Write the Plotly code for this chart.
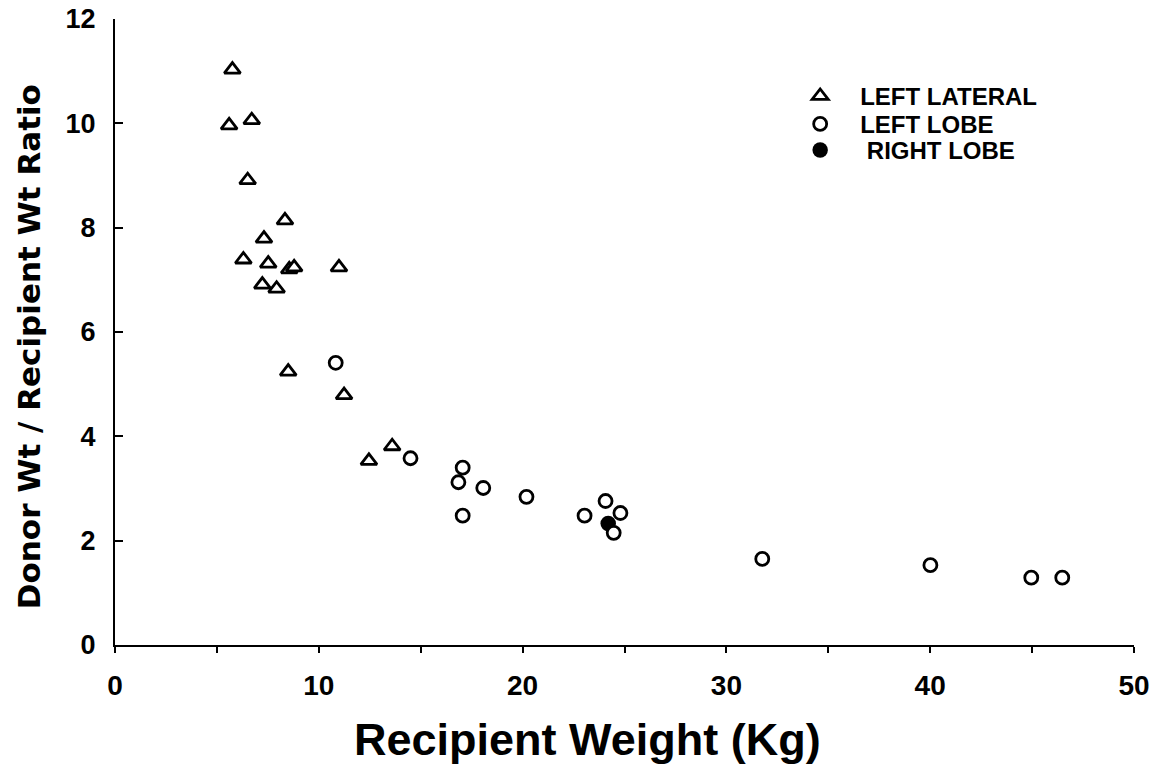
import plotly.graph_objects as go

# Left lateral segment grafts (triangles)
ll_weight = [5.76, 5.60, 6.71, 6.51, 8.34, 7.31, 6.30, 7.52, 8.55, 8.79, 10.99, 7.23, 7.93,
             8.50, 11.24, 13.60, 12.46]
ll_ratio = [11.03, 9.96, 10.06, 8.91, 8.14, 7.79, 7.39, 7.31, 7.20, 7.24, 7.24, 6.91, 6.83,
            5.24, 4.79, 3.81, 3.53]

# Left lobe grafts (open circles)
lobe_weight = [10.83, 14.50, 17.06, 16.85, 18.07, 17.06, 20.19, 23.04, 24.07, 24.80, 24.47,
               31.76, 40.01, 44.96, 46.48]
lobe_ratio = [5.41, 3.58, 3.40, 3.12, 3.01, 2.48, 2.84, 2.48, 2.76, 2.53, 2.15,
              1.65, 1.53, 1.29, 1.29]

# Right lobe graft (filled circle)
rl_weight = [24.20]
rl_ratio = [2.33]

x_ticks = [0, 10, 20, 30, 40, 50]
y_ticks = [0, 2, 4, 6, 8, 10, 12]

# page has an 8px body margin; target pixel geometry (window coords)
X0, X50 = 114.5, 1134.0
Y0, Y12 = 645.0, 18.6
OFF = 8
W, H = 1162 - OFF, 780 - OFF
PW, PH = X50 - X0, Y0 - Y12

def px(xw):
    return (xw - X0) / PW

def py(yw):
    return (Y0 - yw) / PH

NB = "\u00a0"
FONT = "Arial, Liberation Sans, sans-serif"
fig = go.Figure()
fig.add_trace(go.Scatter(
    x=ll_weight, y=ll_ratio, mode="markers", name=NB * 3 + "LEFT LATERAL", legend="legend",
    marker=dict(symbol="triangle-up", size=14, color="white", line=dict(color="black", width=2.8)),
))
fig.add_trace(go.Scatter(
    x=rl_weight, y=rl_ratio, mode="markers", name=NB * 4 + "RIGHT LOBE", legend="legend3",
    marker=dict(symbol="circle", size=15.5, color="black", line=dict(color="black", width=0)),
))
fig.add_trace(go.Scatter(
    x=lobe_weight, y=lobe_ratio, mode="markers", name=NB * 3 + "LEFT LOBE", legend="legend2",
    marker=dict(symbol="circle", size=13, color="white", line=dict(color="black", width=2.8)),
))

leg_common = dict(xanchor="left", yanchor="middle", bgcolor="rgba(0,0,0,0)", borderwidth=0,
                  font=dict(size=24, family=FONT, color="black", weight="bold"))
lx = px(800)

fig.update_layout(
    width=W, height=H,
    paper_bgcolor="white", plot_bgcolor="white",
    margin=dict(l=X0 - OFF, r=W - (X50 - OFF), t=Y12 - OFF, b=H - (Y0 - OFF), pad=0,
                autoexpand=False),
    font=dict(family=FONT, color="black"),
    showlegend=True,
    legend=dict(x=lx, y=py(96), **leg_common),
    legend2=dict(x=lx, y=py(124), **leg_common),
    legend3=dict(x=lx, y=py(150), **leg_common),
    xaxis=dict(
        range=[0, 50], tickvals=x_ticks, ticktext=[str(v) for v in x_ticks],
        showgrid=False, zeroline=False, showline=True, linecolor="black", linewidth=2,
        ticks="outside", ticklen=6, tickwidth=2, tickcolor="black", automargin=False,
        minor=dict(dtick=5, ticks="outside", ticklen=6, tickwidth=2, tickcolor="black", showgrid=False),
        tickfont=dict(size=28, family=FONT, weight="bold"),
        ticklabelstandoff=8, ticklabeloverflow="allow",
    ),
    yaxis=dict(
        range=[0, 12], tickvals=y_ticks, ticktext=[str(v) for v in y_ticks],
        showgrid=False, zeroline=False, showline=True, linecolor="black", linewidth=2,
        ticks="inside", ticklen=8, tickwidth=2, tickcolor="black", automargin=False,
        tickfont=dict(size=27, family=FONT, weight="bold"),
        ticklabelstandoff=12, ticklabeloverflow="allow",
    ),
    annotations=[
        dict(text="Recipient Weight (Kg)", xref="paper", yref="paper",
             x=px(587), y=py(740),
             xanchor="center", yanchor="middle", showarrow=False,
             font=dict(size=45, family=FONT, weight="bold")),
        dict(text="Donor Wt / Recipient Wt Ratio", xref="paper", yref="paper",
             x=px(28), y=py(346.5), textangle=-90,
             xanchor="center", yanchor="middle", showarrow=False,
             font=dict(size=31, family="DejaVu Sans", weight="bold")),
    ],
)

fig.write_html("out.html")
